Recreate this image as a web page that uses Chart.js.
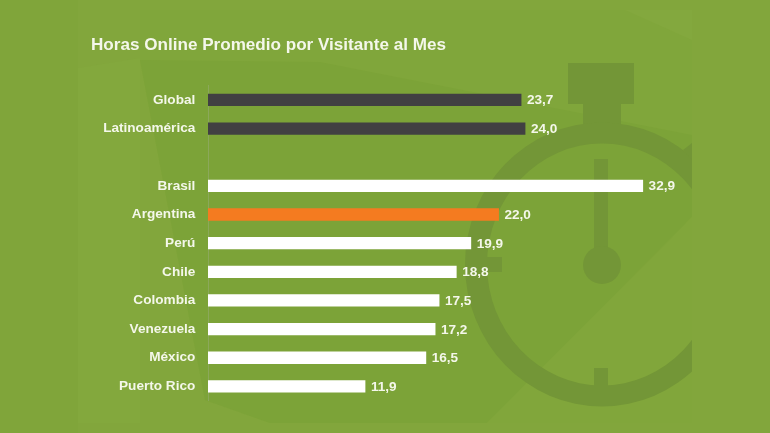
<!DOCTYPE html>
<html><head><meta charset="utf-8">
<style>html,body{margin:0;padding:0;background:#82a63b}canvas{display:block}#w{width:770px;height:433px}</style>
<script src="https://cdn.jsdelivr.net/npm/chart.js@4"></script></head>
<body><div id="w"><canvas id="c"></canvas></div>
<script>
const titleText = 'Horas Online Promedio por Visitante al Mes';
const categories = ['Global','Latinoamérica','','Brasil','Argentina','Perú','Chile','Colombia','Venezuela','México','Puerto Rico'];
const hours = [23.7,24.0,null,32.9,22.0,19.9,18.8,17.5,17.2,16.5,11.9];
const barColors = ['#414042','#414042','#ffffff','#ffffff','#f47b20','#ffffff','#ffffff','#ffffff','#ffffff','#ffffff','#ffffff'];
const FONT = '"Liberation Sans", Arial, sans-serif';

const backdrop = {
  id:'backdrop',
  beforeDraw(chart){
    const g = chart.ctx;
    const poly = (pts,fill)=>{g.fillStyle=fill;g.beginPath();pts.forEach((p,i)=>i?g.lineTo(p[0],p[1]):g.moveTo(p[0],p[1]));g.closePath();g.fill();};
    g.save();
    g.fillStyle='#82a63c';g.fillRect(0,0,770,433);
    poly([[0,0],[78,0],[78,433],[0,433]],'#80a53a');
    poly([[78,68],[140,58],[140,423],[78,423]],'#83a83d');
    poly([[140,10],[692,10],[692,423],[140,423]],'#80a63b');
    poly([[140,10],[692,10],[692,40],[625,10]],'#83a83e');
    poly([[140,60],[205,400],[270,423],[140,423]],'#82a63c');
    poly([[140,60],[320,62],[692,135],[692,217],[487,423],[270,423],[205,400]],'#7ca338');
    poly([[692,217],[692,423],[487,423]],'#81a63b');
    g.beginPath();g.rect(140,10,552,413);g.clip();
    const dark='#739637';
    g.fillStyle=dark;
    g.fillRect(568,63,66,41);
    g.fillRect(583,104,38,24);
    g.beginPath();
    g.ellipse(602,264.5,137,142,0,0,Math.PI*2);
    g.ellipse(602,264.5,115,121,0,0,Math.PI*2);
    g.fill('evenodd');
    poly([[683,150],[692,143],[692,160]],dark);
    g.fillStyle=dark;
    g.fillRect(594,159,14,105);
    g.beginPath();g.arc(602,265,19,0,Math.PI*2);g.fill();
    g.fillRect(594,368,14,18);
    g.fillRect(485,257,17,15);
    g.restore();
  }
};
const valueLabels = {
  id:'valueLabels',
  afterDatasetsDraw(chart){
    const g = chart.ctx, x = chart.scales.x, y = chart.scales.y;
    g.save();
    g.font = 'bold 13.6px '+FONT;
    g.fillStyle = '#f4f7ea';
    g.textAlign='left';g.textBaseline='middle';
    hours.forEach((v,i)=>{
      if(v===null) return;
      g.fillText(v.toFixed(1).replace('.',','), x.getPixelForValue(v)+5.5, y.getPixelForValue(i)+0.7);
    });
    g.restore();
  }
};
new Chart(document.getElementById('c'),{
  type:'bar',
  data:{labels:categories,datasets:[{data:hours,backgroundColor:barColors,barPercentage:0.43,categoryPercentage:1,borderWidth:0}]},
  plugins:[backdrop,valueLabels],
  options:{
    indexAxis:'y',responsive:true,maintainAspectRatio:false,animation:false,
    layout:{padding:{left:91,right:33,top:0,bottom:32.3}},
    plugins:{legend:{display:false},tooltip:{enabled:false},
      title:{display:true,text:titleText,align:'start',color:'#f4f7ea',
        font:{family:FONT,size:17.1,weight:'bold',lineHeight:1.2},padding:{top:35.5,bottom:29.6}}},
    scales:{
      x:{display:false,min:0,max:40},
      y:{
        afterFit(s){s.width=117;},
        grid:{display:true,drawOnChartArea:false,drawTicks:false,color:'rgba(0,0,0,0)'},
        border:{display:true,color:'#8ba85a',width:1},
        ticks:{color:'#f4f7ea',font:{family:FONT,size:13.6,weight:'bold'},padding:12.7,autoSkip:false,z:1}
      }
    }
  }
});
</script></body></html>
